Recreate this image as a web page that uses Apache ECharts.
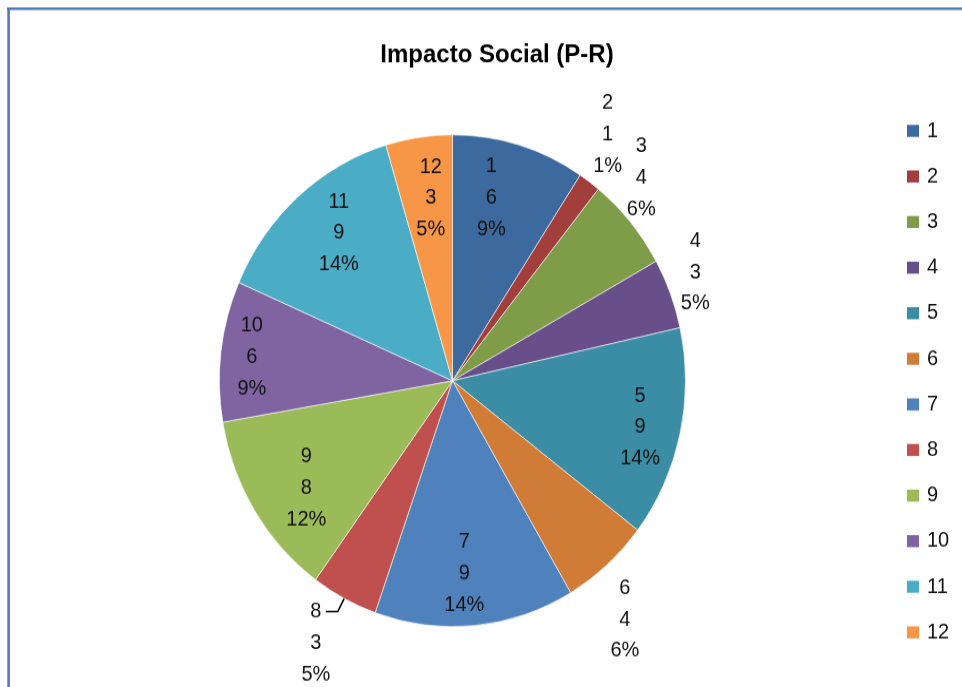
<!DOCTYPE html>
<html><head><meta charset="utf-8">
<script src="https://cdn.jsdelivr.net/npm/echarts@6/dist/echarts.min.js"></script>
<style>
html,body{margin:0;padding:0;background:#fff;overflow:hidden;}
#wrap{width:962px;height:687px;overflow:hidden;position:relative;background:#fff;}
#chart{width:962px;height:700px;transform:scaleY(1.0553);transform-origin:0 0;}
</style></head><body>
<div id="wrap"><div id="chart"></div></div>
<script>
// ---- data ----
const chartTitle = 'Impacto Social (P-R)';
const categories = ['1','2','3','4','5','6','7','8','9','10','11','12'];
const values = [6,1,4,3,9,4,9,3,8,6,9,3];
const colors = ['#3D6A9E','#A23F3C','#7F9C48','#694F8A','#3A8DA4','#D07C37',
                '#4F81BD','#C0504D','#9BBB59','#8064A2','#4BACC6','#F79646'];
const outsideLabels = ['2','3','4','6','8'];
const leaderLineLabels = ['8'];

// ---- style / layout ----
const FONT = 'Liberation Sans, Arial, sans-serif';
const center = [452.5, 360.8];
const R = 233;
const labelNudge = {
  '1':[-14,4], '5':[7,4], '7':[-6,-1.5], '9':[11,4], '10':[-17,0], '11':[9,-1.5], '12':[5,10],
  '2':[-10,-6], '3':[-26,-11], '4':[-20,-3], '6':[-14,16], '8':[-6,0]
};
const labelText = {
  fontFamily: FONT, fontSize: 20, lineHeight: 29.7, color: '#111',
  textBorderWidth: 0, formatter: '{b}\n{c}\n{d}%'
};

const mainData = categories.map((n, i) => {
  const d = { name: n, value: values[i], itemStyle: { color: colors[i] } };
  if (leaderLineLabels.includes(n)) {
    d.label = { show: true, position: 'outside', formatter: ' ', fontSize: 1 };
    d.labelLine = { show: true, length: 14, length2: 12, smooth: false,
                    lineStyle: { color: '#000', width: 1.6 } };
  }
  return d;
});

function labelData(showOutside) {
  return categories.map((n, i) => {
    const isOut = outsideLabels.includes(n);
    const show = showOutside ? isOut : !isOut;
    return {
      name: n, value: values[i],
      itemStyle: { color: 'rgba(0,0,0,0)', borderWidth: 0 },
      label: { show: show, offset: labelNudge[n] || [0, 0] }
    };
  });
}

const labelSeriesBase = {
  type: 'pie', center: center, startAngle: 90, clockwise: true, silent: true,
  percentPrecision: 0, avoidLabelOverlap: false,
  label: Object.assign({ position: 'inside' }, labelText),
  labelLine: { show: false },
  labelLayout: { hideOverlap: false },
  emphasis: { disabled: true },
  tooltip: { show: false }
};

const option = {
  animation: false,
  backgroundColor: '#fff',
  title: {
    text: chartTitle, left: 492, top: 35, textAlign: 'center',
    textStyle: { fontFamily: FONT, fontSize: 24, fontWeight: 'bold', color: '#000' }
  },
  legend: {
    orient: 'vertical', left: 907, top: 114, padding: 0,
    itemWidth: 12, itemHeight: 11.4, itemGap: 23.2, icon: 'rect',
    itemStyle: { borderWidth: 0 },
    textStyle: { fontFamily: FONT, fontSize: 20, lineHeight: 20, color: '#111', padding: [0,0,0,3] },
    data: categories,
    selectedMode: false
  },
  graphic: [
    { type: 'line', shape: { x1: 7, y1: 8.2, x2: 962, y2: 8.2 },
      style: { stroke: '#5079BA', lineWidth: 2.6 } },
    { type: 'line', shape: { x1: 8.6, y1: 7, x2: 8.6, y2: 700 },
      style: { stroke: '#5079BA', lineWidth: 2.6 } }
  ],
  series: [
    Object.assign({}, labelSeriesBase, { radius: [240, 316], data: labelData(true) }),
    {
      type: 'pie', name: 'Impacto Social', center: center, radius: R,
      startAngle: 90, clockwise: true, percentPrecision: 0, avoidLabelOverlap: false,
      itemStyle: { borderColor: 'rgba(255,255,255,0.6)', borderWidth: 1 },
      label: { show: false }, labelLine: { show: false },
      labelLayout: { hideOverlap: false },
      emphasis: { disabled: true },
      data: mainData
    },
    Object.assign({}, labelSeriesBase, { radius: [131, 233], data: labelData(false) })
  ]
};
// legend colours come from the visible pie (series 0 is transparent), so pass them explicitly
option.legend.data = categories.map((n, i) => ({ name: n, itemStyle: { color: colors[i] } }));

const chart = echarts.init(document.getElementById('chart'), null, { renderer: 'canvas' });
chart.setOption(option);
</script>
</body></html>
